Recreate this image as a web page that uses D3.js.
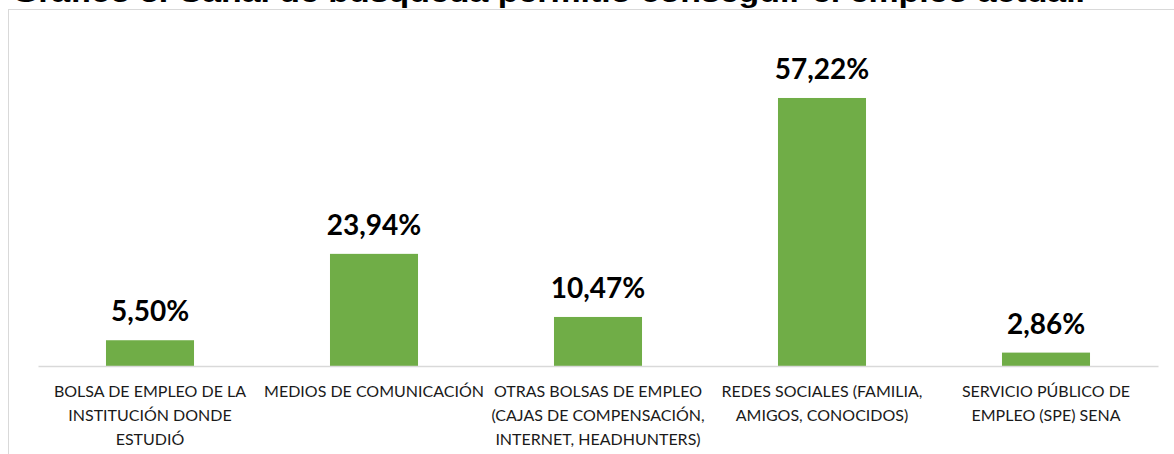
<!DOCTYPE html>
<html>
<head>
<meta charset="utf-8">
<script src="https://cdn.jsdelivr.net/npm/d3@7"></script>
<style>
  body { margin: 0; background: #fff; }
  svg { display: block; }
</style>
</head>
<body>
<script>
// chart data
var categories = [
    "BOLSA DE EMPLEO DE LA|INSTITUCIÓN DONDE|ESTUDIÓ",
    "MEDIOS DE COMUNICACIÓN",
    "OTRAS BOLSAS DE EMPLEO|(CAJAS DE COMPENSACIÓN,|INTERNET, HEADHUNTERS)",
    "REDES SOCIALES (FAMILIA,|AMIGOS, CONOCIDOS)",
    "SERVICIO PÚBLICO DE|EMPLEO (SPE) SENA"
];
var values = [5.50, 23.94, 10.47, 57.22, 2.86];
var titleText = "Gráfico 5. Canal de búsqueda permitió conseguir el empleo actual.";

var width = 1174,
    height = 454;

var svg = d3.select("body")
    .append("svg")
    .attr("width", width)
    .attr("height", height);

// chart frame (cut off on right and bottom)
svg.append("rect")
    .attr("x", 8.5)
    .attr("y", 9.5)
    .attr("width", 1200)
    .attr("height", 500)
    .attr("fill", "none")
    .attr("stroke", "#d9d9d9")
    .attr("stroke-width", 1);

// title, mostly above the visible area
svg.append("text")
    .attr("x", 12)
    .attr("y", 2)
    .attr("font-family", "Liberation Sans, Arial, sans-serif")
    .attr("font-weight", "bold")
    .attr("font-size", 27)
    .attr("textLength", 1073)
    .attr("lengthAdjust", "spacingAndGlyphs")
    .attr("fill", "#000")
    .text(titleText);

var x = d3.scaleBand()
    .domain(categories)
    .range([38, 1158])
    .paddingInner(0.607)
    .paddingOuter(0.3035);

var y = d3.scaleLinear()
    .domain([0, 60])
    .range([366, 366 - 60 * 4.684]);

// bars
svg.selectAll(".bar")
    .data(values)
    .enter()
    .append("rect")
    .attr("class", "bar")
    .attr("x", function(d, i){ return x(categories[i]); })
    .attr("y", function(d){ return y(d); })
    .attr("width", x.bandwidth())
    .attr("height", function(d){ return y(0) - y(d); })
    .attr("fill", "#70ad47");

// axis line
var xAxis = svg.append("g")
    .attr("transform", "translate(0," + y(0) + ")")
    .call(d3.axisBottom(x).tickSize(0).tickFormat(""));
xAxis.select(".domain")
    .attr("stroke", "#d9d9d9")
    .attr("stroke-width", 1.5);

// value labels
svg.selectAll(".lbl")
    .data(values)
    .enter()
    .append("text")
    .attr("class", "lbl")
    .attr("x", function(d, i){ return x(categories[i]) + x.bandwidth() / 2; })
    .attr("y", function(d){ return y(d) - 19; })
    .attr("text-anchor", "middle")
    .attr("font-family", "Lato, sans-serif")
    .attr("font-weight", "bold")
    .attr("font-size", 28)
    .attr("fill", "#000")
    .text(function(d){ return d3.format(".2f")(d).replace(".", ",") + "%"; });

// category labels
var catLabels = svg.selectAll(".cat")
    .data(categories)
    .enter()
    .append("text")
    .attr("class", "cat")
    .attr("text-anchor", "middle")
    .attr("font-family", "Lato, sans-serif")
    .attr("font-size", 16)
    .attr("fill", "#1a1a1a");

catLabels.each(function(d){
    var t = d3.select(this);
    var cx = x(d) + x.bandwidth() / 2;
    d.split("|").forEach(function(line, k){
        t.append("tspan")
            .attr("x", cx)
            .attr("y", 397 + k * 24)
            .text(line);
    });
});
</script>
</body>
</html>
